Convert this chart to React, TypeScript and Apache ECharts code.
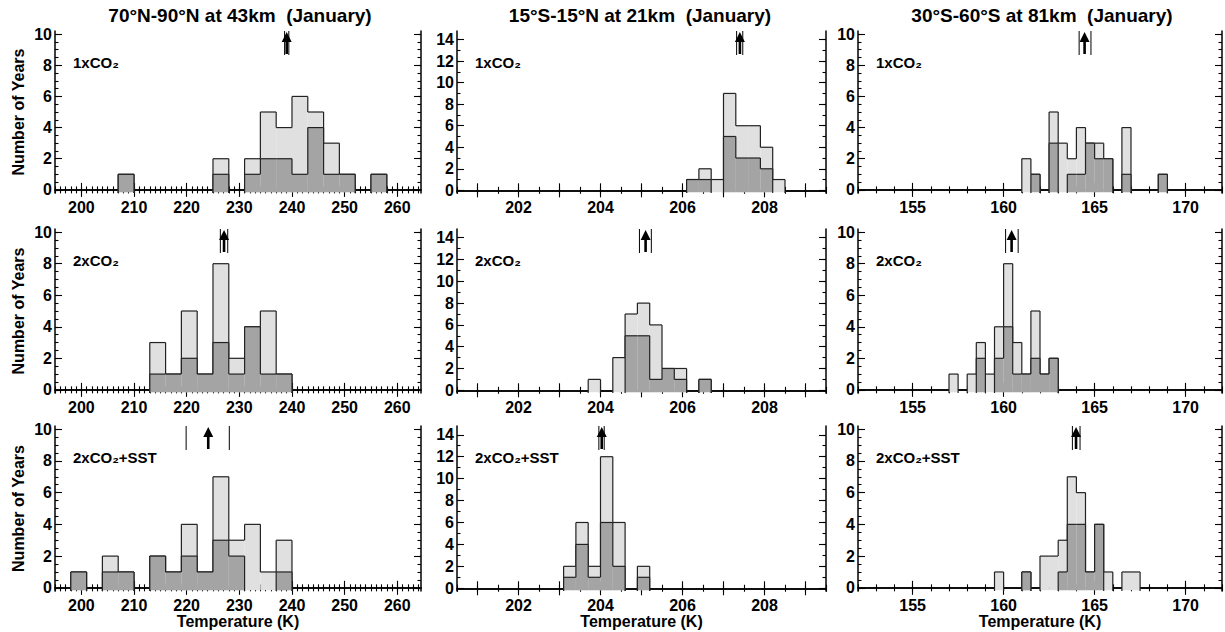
import React, { useEffect, useRef } from "react";
import * as echarts from "echarts";

const columnTitles = [
  "70°N-90°N at 43km  (January)",
  "15°S-15°N at 21km  (January)",
  "30°S-60°S at 81km  (January)",
];
const rowLabels = ["1xCO₂", "2xCO₂", "2xCO₂+SST"];
const xAxisTitle = "Temperature (K)";
const yAxisTitle = "Number of Years";

// Column 1: 70N-90N at 43km, 3 K bins
const binWidthA = 3;
const binsA1 = [207, 225, 231, 234, 237, 240, 243, 246, 249, 255];
const lightA1 = [1, 2, 2, 5, 4, 6, 5, 3, 1, 1];
const darkA1 = [1, 1, 1, 2, 2, 1, 4, 1, 1, 1];
const binsA2 = [213, 216, 219, 222, 225, 228, 231, 234, 237];
const lightA2 = [3, 1, 5, 1, 8, 2, 4, 5, 1];
const darkA2 = [1, 1, 2, 1, 3, 1, 4, 1, 1];
const binsA3 = [198, 204, 207, 213, 216, 219, 222, 225, 228, 231, 234, 237];
const lightA3 = [1, 2, 1, 2, 1, 4, 1, 7, 3, 4, 1, 3];
const darkA3 = [1, 1, 1, 2, 1, 2, 1, 3, 2, 0, 0, 1];

// Column 2: 15S-15N at 21km, 0.3 K bins
const binWidthB = 0.3;
const binsB1 = [206.1, 206.4, 206.7, 207.0, 207.3, 207.6, 207.9, 208.2];
const lightB1 = [1, 2, 1, 9, 6, 6, 4, 1];
const darkB1 = [1, 1, 0, 5, 3, 3, 2, 0];
const binsB2 = [203.7, 204.3, 204.6, 204.9, 205.2, 205.5, 205.8, 206.4];
const lightB2 = [1, 3, 7, 8, 6, 2, 2, 1];
const darkB2 = [0, 0, 5, 5, 1, 2, 1, 1];
const binsB3 = [203.1, 203.4, 203.7, 204.0, 204.3, 204.9];
const lightB3 = [2, 6, 2, 12, 6, 2];
const darkB3 = [1, 4, 1, 6, 2, 1];

// Column 3: 30S-60S at 81km, 0.5 K bins
const binWidthC = 0.5;
const binsC1 = [161.0, 161.5, 162.5, 163.0, 163.5, 164.0, 164.5, 165.0, 165.5, 166.5, 168.5];
const lightC1 = [2, 1, 5, 3, 2, 4, 3, 3, 2, 4, 1];
const darkC1 = [0, 1, 3, 0, 1, 1, 3, 2, 2, 1, 1];
const binsC2 = [157.0, 158.0, 158.5, 159.0, 159.5, 160.0, 160.5, 161.0, 161.5, 162.0, 162.5];
const lightC2 = [1, 1, 3, 1, 4, 8, 3, 1, 5, 1, 2];
const darkC2 = [0, 0, 2, 0, 2, 4, 1, 1, 2, 1, 2];
const binsC3 = [159.5, 161.0, 162.0, 162.5, 163.0, 163.5, 164.0, 164.5, 165.0, 165.5, 166.5, 167.0];
const lightC3 = [1, 1, 2, 2, 3, 7, 6, 1, 4, 1, 1, 1];
const darkC3 = [0, 1, 0, 0, 1, 4, 4, 1, 4, 0, 0, 0];

// Mean arrows: [mean, low, high]
const arrowsA = [[239.0, 238.6, 239.4], [227.1, 226.4, 227.8], [224.1, 219.9, 228.1]];
const arrowsB = [[207.4, 207.32, 207.47], [205.1, 204.95, 205.24], [204.03, 203.96, 204.09]];
const arrowsC = [[164.45, 164.15, 164.8], [160.44, 160.11, 160.8], [163.98, 163.78, 164.2]];

// Axis ranges & ticks
const xRangeA = [195, 264.5];
const xRangeB = [200.5, 209.5];
const xRangeC = [152, 172];
const yRange10 = [-0.2, 10.2];
const yRange14 = [-0.25, 14.8];
const xLabelsA = [200, 210, 220, 230, 240, 250, 260];
const xLabelsB = [202, 204, 206, 208];
const xLabelsC = [155, 160, 165, 170];
const yLabels10 = [0, 2, 4, 6, 8, 10];
const yLabels14 = [0, 2, 4, 6, 8, 10, 12, 14];

const FONT = '"Liberation Sans", Arial, Helvetica, sans-serif';
const LIGHT = "#e0e0e0";
const DARK = "#a4a4a4";
const EDGE = "#222";

function steps(a: number, b: number, s: number): number[] {
  const out: number[] = [];
  const n = Math.round((b - a) / s);
  for (let i = 0; i <= n; i++) out.push(Math.round((a + i * s) * 1000) / 1000);
  return out;
}

const colLefts = [55, 457, 858];
const colWidths = [366, 369, 364];
const rowTops = [31, 229, 426];
const rowHeights = [162, 164, 165];

type Col = {
  xr: number[]; yr: number[]; xLabels: number[]; yLabels: number[];
  xMajor: number[]; xMinor: number[]; yMajor: number[]; yMinor: number[];
  width: number; bins: number[][]; light: number[][]; dark: number[][]; arrows: number[][];
};

const cols: Col[] = [
  {
    xr: xRangeA, yr: yRange10, xLabels: xLabelsA, yLabels: yLabels10,
    xMajor: steps(200, 260, 10), xMinor: steps(195, 264, 1),
    yMajor: yLabels10, yMinor: steps(0, 10, 0.5),
    width: binWidthA, bins: [binsA1, binsA2, binsA3], light: [lightA1, lightA2, lightA3],
    dark: [darkA1, darkA2, darkA3], arrows: arrowsA,
  },
  {
    xr: xRangeB, yr: yRange14, xLabels: xLabelsB, yLabels: yLabels14,
    xMajor: steps(201, 209, 1), xMinor: steps(200.5, 209.5, 0.5),
    yMajor: yLabels14, yMinor: steps(0, 14, 1),
    width: binWidthB, bins: [binsB1, binsB2, binsB3], light: [lightB1, lightB2, lightB3],
    dark: [darkB1, darkB2, darkB3], arrows: arrowsB,
  },
  {
    xr: xRangeC, yr: yRange10, xLabels: xLabelsC, yLabels: yLabels10,
    xMajor: steps(155, 170, 5), xMinor: steps(152, 172, 1),
    yMajor: yLabels10, yMinor: steps(0, 10, 0.5),
    width: binWidthC, bins: [binsC1, binsC2, binsC3], light: [lightC1, lightC2, lightC3],
    dark: [darkC1, darkC2, darkC3], arrows: arrowsC,
  },
];

function histSeries(xi: number, yi: number, bins: number[], counts: number[], width: number, fill: string, ymin: number, z: number) {
  return {
    type: "custom",
    xAxisIndex: xi,
    yAxisIndex: yi,
    z,
    data: bins.map((b, i) => [b, b + width, counts[i]]),
    encode: { x: [0, 1], y: 2 },
    renderItem: (params: any, api: any) => {
      const i = params.dataIndex;
      const h = counts[i];
      if (!h) return { type: "group", children: [] };
      const x0 = bins[i];
      const x1 = bins[i] + width;
      const tl = api.coord([x0, h]);
      const br = api.coord([x1, ymin]);
      const adjPrev = i > 0 && Math.abs(bins[i - 1] + width - x0) < 1e-6 && counts[i - 1] > 0;
      const adjNext = i < bins.length - 1 && Math.abs(x1 - bins[i + 1]) < 1e-6 && counts[i + 1] > 0;
      const prevY = adjPrev ? api.coord([x0, counts[i - 1]])[1] : br[1];
      const ls = { stroke: EDGE, lineWidth: 1.2 };
      const children: any[] = [
        { type: "rect", shape: { x: tl[0], y: tl[1], width: br[0] - tl[0], height: br[1] - tl[1] - 0.8 }, style: { fill } },
        { type: "line", shape: { x1: tl[0], y1: tl[1], x2: br[0], y2: tl[1] }, style: ls },
        { type: "line", shape: { x1: tl[0], y1: prevY, x2: tl[0], y2: tl[1] }, style: ls },
      ];
      if (!adjNext) children.push({ type: "line", shape: { x1: br[0], y1: tl[1], x2: br[0], y2: br[1] }, style: ls });
      return { type: "group", children };
    },
  };
}

function arrowSeries(xi: number, yi: number, arrow: number[], ymax: number) {
  return {
    type: "custom",
    xAxisIndex: xi,
    yAxisIndex: yi,
    z: 10,
    data: [arrow],
    renderItem: (_params: any, api: any) => {
      const m = api.value(0), lo = api.value(1), hi = api.value(2);
      const p = api.coord([m, ymax]);
      const pl = api.coord([lo, ymax])[0];
      const ph = api.coord([hi, ymax])[0];
      const top = p[1];
      return {
        type: "group",
        children: [
          { type: "line", shape: { x1: pl, y1: top, x2: pl, y2: top + 24 }, style: { stroke: "#000", lineWidth: 1 } },
          { type: "line", shape: { x1: ph, y1: top, x2: ph, y2: top + 24 }, style: { stroke: "#000", lineWidth: 1 } },
          { type: "polygon", shape: { points: [[p[0], top + 1], [p[0] - 5, top + 11], [p[0] + 5, top + 11]] }, style: { fill: "#000" } },
          { type: "line", shape: { x1: p[0], y1: top + 9, x2: p[0], y2: top + 23 }, style: { stroke: "#000", lineWidth: 2.6 } },
        ],
      };
    },
  };
}

function buildOption() {
  const grid: any[] = [];
  const xAxis: any[] = [];
  const yAxis: any[] = [];
  const series: any[] = [];
  const graphic: any[] = [];
  const labelStyle = { color: "#000", fontFamily: FONT, fontWeight: "bold", fontSize: 16 };
  const nameStyle = { color: "#000", fontFamily: FONT, fontWeight: "bold", fontSize: 16 };
  const lineStyle = { color: "#000", width: 1.5 };
  const tickStyle = { color: "#000", width: 1.1 };

  for (let r = 0; r < 3; r++) {
    for (let c = 0; c < 3; c++) {
      const col = cols[c];
      const p = r * 3 + c;
      const rect = { left: colLefts[c], top: rowTops[r], width: colWidths[c], height: rowHeights[r], containLabel: false };
      grid.push({ ...rect }, { ...rect });
      const gMain = 2 * p, gMinor = 2 * p + 1;
      const xc = { type: "value", min: col.xr[0], max: col.xr[1], splitLine: { show: false } };
      const yc = { type: "value", min: col.yr[0], max: col.yr[1], splitLine: { show: false } };
      xAxis.push({
        ...xc, gridIndex: gMain, position: "bottom",
        axisLine: { show: true, lineStyle },
        axisTick: { show: true, inside: true, length: 7, customValues: col.xMajor, lineStyle: tickStyle },
        axisLabel: { show: true, customValues: col.xLabels, margin: 6, ...labelStyle },
        ...(r === 2 ? { name: xAxisTitle, nameLocation: "middle", nameGap: 21, nameTextStyle: { ...nameStyle } } : {}),
      });
      xAxis.push({
        ...xc, gridIndex: gMain, position: "top",
        axisLine: { show: true, lineStyle },
        axisTick: { show: true, inside: true, length: 7, customValues: col.xMajor, lineStyle: tickStyle },
        axisLabel: { show: false },
      });
      xAxis.push({
        ...xc, gridIndex: gMinor, position: "bottom",
        axisLine: { show: false },
        axisTick: { show: true, inside: true, length: 3.5, customValues: col.xMinor, lineStyle: tickStyle },
        axisLabel: { show: false },
      });
      xAxis.push({
        ...xc, gridIndex: gMinor, position: "top",
        axisLine: { show: false },
        axisTick: { show: true, inside: true, length: 3.5, customValues: col.xMinor, lineStyle: tickStyle },
        axisLabel: { show: false },
      });
      yAxis.push({
        ...yc, gridIndex: gMain, position: "left",
        axisLine: { show: true, lineStyle },
        axisTick: { show: true, inside: true, length: 7, customValues: col.yMajor, lineStyle: tickStyle },
        axisLabel: { show: true, customValues: col.yLabels, margin: 3, ...labelStyle },
        ...(c === 0 ? { name: yAxisTitle, nameLocation: "middle", nameGap: 29, nameTextStyle: { ...nameStyle } } : {}),
      });
      yAxis.push({
        ...yc, gridIndex: gMain, position: "right",
        axisLine: { show: true, lineStyle },
        axisTick: { show: true, inside: true, length: 7, customValues: col.yMajor, lineStyle: tickStyle },
        axisLabel: { show: false },
      });
      yAxis.push({
        ...yc, gridIndex: gMinor, position: "left",
        axisLine: { show: false },
        axisTick: { show: true, inside: true, length: 3.5, customValues: col.yMinor, lineStyle: tickStyle },
        axisLabel: { show: false },
      });
      yAxis.push({
        ...yc, gridIndex: gMinor, position: "right",
        axisLine: { show: false },
        axisTick: { show: true, inside: true, length: 3.5, customValues: col.yMinor, lineStyle: tickStyle },
        axisLabel: { show: false },
      });
      const xi = 4 * p, yi = 4 * p;
      series.push(histSeries(xi, yi, col.bins[r], col.light[r], col.width, LIGHT, col.yr[0], 3));
      series.push(histSeries(xi, yi, col.bins[r], col.dark[r], col.width, DARK, col.yr[0], 4));
      series.push(arrowSeries(xi, yi, col.arrows[r], col.yr[1]));

      graphic.push({
        type: "text",
        x: colLefts[c] + 18,
        y: rowTops[r] + 31,
        z: 20,
        style: { text: rowLabels[r], font: `bold 15px ${FONT}`, fill: "#000", textVerticalAlign: "middle" },
      });
    }
  }
  const titleCenters = [240, 640, 1042];
  for (let c = 0; c < 3; c++) {
    graphic.push({
      type: "text",
      x: titleCenters[c],
      y: 15,
      style: { text: columnTitles[c], font: `bold 19px ${FONT}`, fill: "#000", textAlign: "center", textVerticalAlign: "middle" },
    });
  }
  return { animation: false, backgroundColor: "#fff", grid, xAxis, yAxis, series, graphic };
}

export default function App() {
  const ref = useRef<HTMLDivElement>(null);
  useEffect(() => {
    if (!ref.current) return;
    const chart = echarts.init(ref.current, null, { renderer: "svg" });
    chart.setOption(buildOption() as any);
    return () => chart.dispose();
  }, []);
  return (
    <div
      ref={ref}
      style={{ position: "fixed", left: 0, top: 0, width: 1225, height: 632, background: "#fff" }}
    />
  );
}
